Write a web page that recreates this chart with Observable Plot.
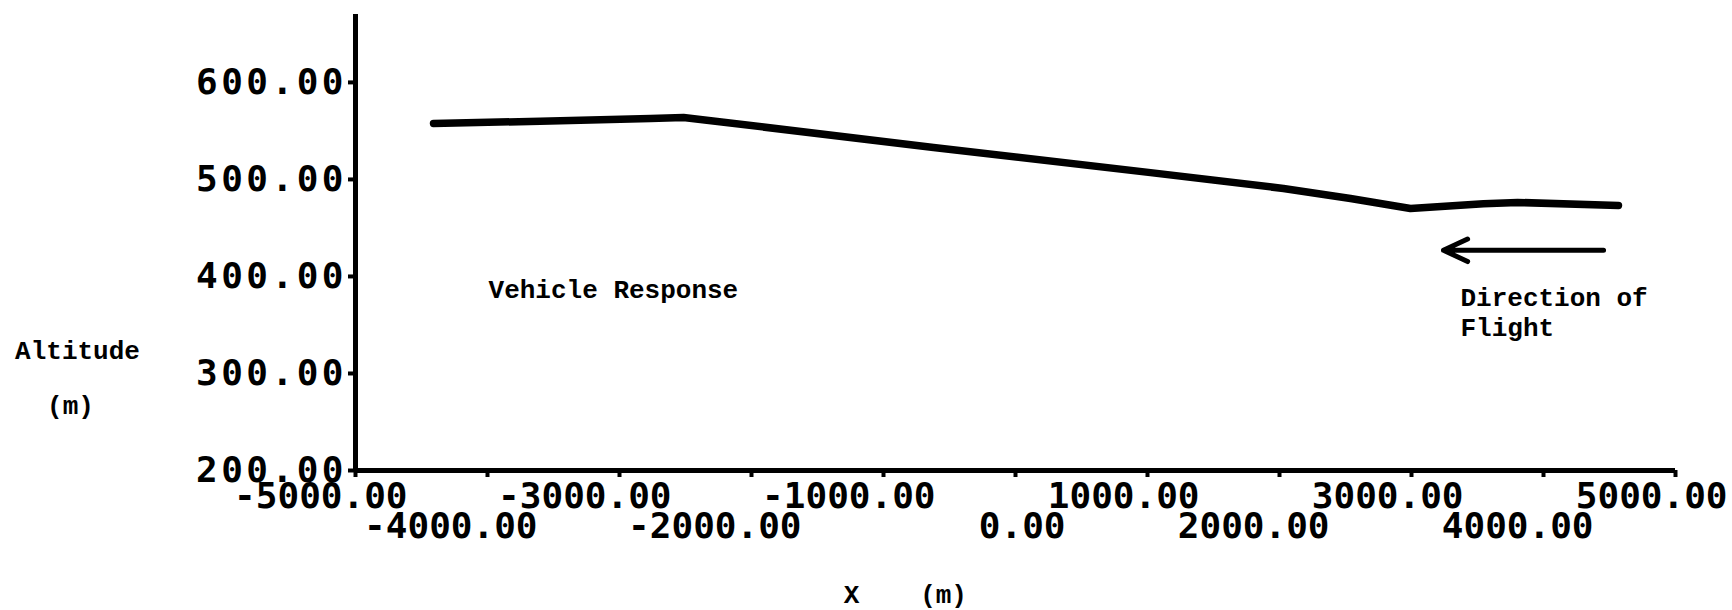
<!DOCTYPE html>
<html><head><meta charset="utf-8">
<script src="https://cdn.jsdelivr.net/npm/d3@7"></script>
<script src="https://cdn.jsdelivr.net/npm/@observablehq/plot@0.6"></script>
<style>
body{margin:0;background:#fff}
g[aria-label="y-axis tick label"] text{letter-spacing:3.5px}
</style>
</head><body><div id="chart"></div>
<script>
// Flight path: X (m) vs Altitude (m)
const xPos     = [-4409, -3600, -2765, -2515, -621, 1023, 2030, 2538, 2992, 3545, 3803, 4568];
const altitude = [557.7,  560,  562.9,  563.9, 533,  507,  490.7, 480.4, 470, 475, 476.3, 473.2];
const xTicks = [-5000, -4000, -3000, -2000, -1000, 0, 1000, 2000, 3000, 4000, 5000];
const yTicks = [200, 300, 400, 500, 600];
const annotations = ["Vehicle Response", "Direction of", "Flight"];
const axisTitles = ["Altitude", "(m)", "X", "(m)"];

const data = xPos.map((x, i) => ({x, y: altitude[i]}));
const rowA = xTicks.filter((d, i) => i % 2 === 0);
const rowB = xTicks.filter((d, i) => i % 2 === 1);
const fmt = d => d.toFixed(2);
const tickFont = {fontSize: 36, fontFamily: "DejaVu Sans Mono", fontWeight: "bold"};
const typeFont = {fontSize: 26, fontFamily: "Liberation Mono", fontWeight: "bold", fill: "#000"};

const chart = Plot.plot({
  width: 1732, height: 610,
  marginLeft: 355, marginRight: 57, marginTop: 14, marginBottom: 140,
  x: {domain: [-5000, 5000]},
  y: {domain: [200, 670]},
  style: {background: "#fff", color: "#000"},
  marks: [
    Plot.axisY(yTicks, {tickSize: 7, tickPadding: 1.5, tickFormat: fmt, strokeWidth: 4, label: null, ...tickFont}),
    // tick marks on the x axis (no text)
    Plot.axisX(xTicks, {tickSize: 7, tickFormat: () => "", strokeWidth: 4, label: null}),
    // two staggered rows of x labels
    Plot.axisX(rowA, {tickSize: 0, tickPadding: 12, tickFormat: fmt, textAnchor: "end", dx: 52, label: null, ...tickFont}),
    Plot.axisX(rowB, {tickSize: 0, tickPadding: 42, tickFormat: fmt, textAnchor: "end", dx: 50, label: null, ...tickFont}),
    Plot.ruleX([-5000], {y1: 200, y2: 670, strokeWidth: 5, stroke: "#000"}),
    Plot.ruleY([200], {x1: -5000, x2: 5000, strokeWidth: 5, stroke: "#000"}),
    Plot.line(data, {x: "x", y: "y", stroke: "#000", strokeWidth: 7.5, strokeLinecap: "round", strokeLinejoin: "round"}),
    Plot.arrow([0], {x1: 4455, x2: 3242, y1: 427, y2: 427, stroke: "#000", strokeWidth: 5, headLength: 8, headAngle: 50}),
    Plot.text([annotations[0]], {x: -3992, y: 386.6, textAnchor: "start", ...typeFont}),
    Plot.text([annotations[1]], {x: 3371, y: 378.4, textAnchor: "start", ...typeFont}),
    Plot.text([annotations[2]], {x: 3371, y: 347.4, textAnchor: "start", ...typeFont}),
    Plot.text([axisTitles[0]], {x: -7106, y: 323.7, textAnchor: "middle", ...typeFont}),
    Plot.text([axisTitles[1]], {x: -7159, y: 267, textAnchor: "middle", ...typeFont}),
    Plot.text([axisTitles[2]], {x: -1242, y: 72, textAnchor: "middle", ...typeFont}),
    Plot.text([axisTitles[3]], {x: -545, y: 72, textAnchor: "middle", ...typeFont})
  ]
});
document.getElementById("chart").appendChild(chart);
</script>
</body></html>
